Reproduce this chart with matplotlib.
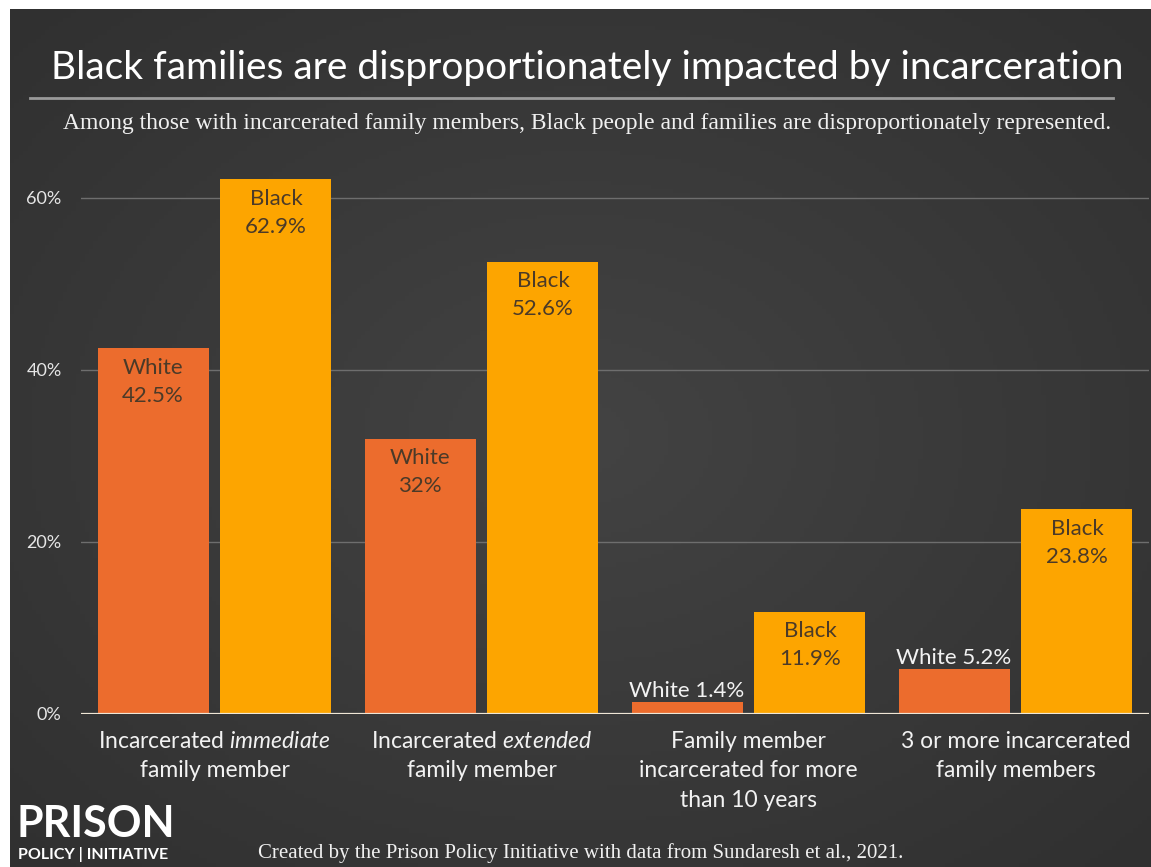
import numpy as np
import matplotlib.pyplot as plt

plt.rcParams['font.family'] = ['Lato', 'DejaVu Sans']
plt.rcParams['mathtext.fontset'] = 'custom'
plt.rcParams['mathtext.rm'] = 'Lato'
plt.rcParams['mathtext.it'] = 'Lato:italic'

# data
categories = [
    'Incarcerated $\\it{immediate}$\nfamily member',
    'Incarcerated $\\it{extended}$\nfamily member',
    'Family member\nincarcerated for more\nthan 10 years',
    '3 or more incarcerated\nfamily members',
]
white_vals = [42.5, 32, 1.4, 5.2]
black_vals = [62.9, 52.6, 11.9, 23.8]
white_labels = ['42.5%', '32%', '1.4%', '5.2%']
black_labels = ['62.9%', '52.6%', '11.9%', '23.8%']
yticks = [0, 20, 40, 60]

ORANGE = '#ec6c2d'
YELLOW = '#fda500'
DARK = '#4b3a28'

fig = plt.figure(figsize=(11.51, 8.67), dpi=100, facecolor='white')

# dark panel with a soft vignette
bg = fig.add_axes([10 / 1151, 0, 1 - 10 / 1151, 1 - 9 / 867])
yy, xx = np.mgrid[-1:1:200j, -1:1:260j]
r = np.sqrt(xx ** 2 + yy ** 2)
bg.imshow(-r, cmap=plt.matplotlib.colors.LinearSegmentedColormap.from_list(
    'bg', ['#303030', '#434343']), aspect='auto', extent=[0, 1, 0, 1])
bg.axis('off')

ax = fig.add_axes([81 / 1151, 1 - 714 / 867, (1149 - 81) / 1151, (714 - 179) / 867])
ax.patch.set_alpha(0)

x = np.arange(len(categories))
w = 0.416
off = 0.230
wb = ax.bar(x - off, white_vals, w, color=ORANGE, zorder=2)
bb = ax.bar(x + off, black_vals, w, color=YELLOW, zorder=2)

ax.set_xlim(-0.5, 3.5)
ax.set_ylim(0, 62.2)
ax.set_yticks(yticks)
ax.set_yticklabels([f'{t}%' for t in yticks])
ax.set_xticks(x)
ax.set_xticklabels(categories, fontsize=16.5, color='#f2f2f2', linespacing=1.5)
ax.tick_params(axis='y', length=0, pad=14, labelsize=13, labelcolor='#e6e6e6')
ax.tick_params(axis='x', length=0, pad=12)
for s in ax.spines.values():
    s.set_visible(False)
ax.grid(axis='y', color='#6e6e6e', lw=1, zorder=0)
ax.axhline(0, color='#efe6d6', lw=1.6, zorder=3)

for bars, vals, labs, name in [(wb, white_vals, white_labels, 'White'),
                               (bb, black_vals, black_labels, 'Black')]:
    for rect, v, lab in zip(bars, vals, labs):
        cx = rect.get_x() + rect.get_width() / 2
        top = min(v, 62.2)
        if v < 8:
            ax.annotate(f'{name} {lab}', (cx, v), xytext=(0, 1), textcoords='offset points',
                        ha='center', va='bottom', fontsize=16, color='#f2f2f2')
        else:
            ax.annotate(f'{name}\n{lab}', (cx, top), xytext=(0, -7), textcoords='offset points',
                        ha='center', va='top', fontsize=16, color=DARK, linespacing=1.5,
                        annotation_clip=False)

fig.text(587 / 1151, 1 - 68 / 867, 'Black families are disproportionately impacted by incarceration',
         ha='center', va='center', fontsize=28, color='white')
fig.add_artist(plt.Line2D([30 / 1151, 1113 / 1151], [1 - 98 / 867] * 2, color='#9a9a9a', lw=2))
fig.text(587 / 1151, 1 - 124 / 867,
         'Among those with incarcerated family members, Black people and families are disproportionately represented.',
         ha='center', va='center', fontsize=17, color='#f0f0f0', family='Liberation Serif')

fig.text(17 / 1151, 1 - 824 / 867, 'PRISON', ha='left', va='center', fontsize=31,
         fontweight='bold', color='white')
fig.text(18 / 1151, 1 - 855 / 867, 'POLICY | INITIATIVE', ha='left', va='center', fontsize=11.5,
         fontweight='bold', color='white')
fig.text(258 / 1151, 1 - 853 / 867,
         'Created by the Prison Policy Initiative with data from Sundaresh et al., 2021.',
         ha='left', va='center', fontsize=15, color='#f0f0f0', family='Liberation Serif')

fig.savefig('out.png', dpi=100, facecolor=fig.get_facecolor())
